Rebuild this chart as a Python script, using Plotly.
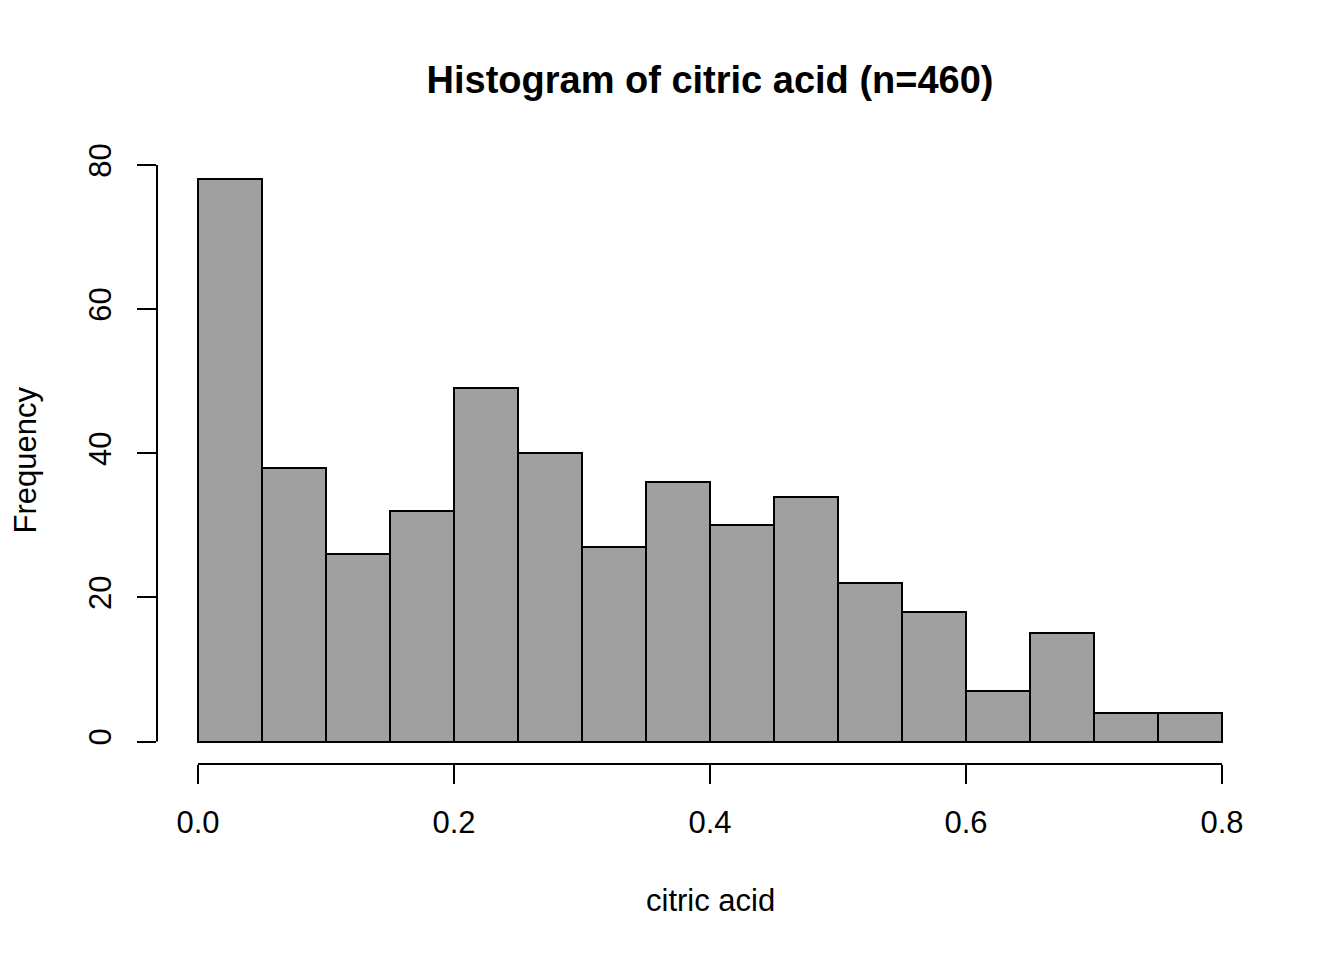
import plotly.graph_objects as go

# Data
bin_left = [0.00, 0.05, 0.10, 0.15, 0.20, 0.25, 0.30, 0.35,
            0.40, 0.45, 0.50, 0.55, 0.60, 0.65, 0.70, 0.75]
bin_width = 0.05
counts = [78, 38, 26, 32, 49, 40, 27, 36, 30, 34, 22, 18, 7, 15, 4, 4]
x_ticks = [0.0, 0.2, 0.4, 0.6, 0.8]
x_tick_labels = ["0.0", "0.2", "0.4", "0.6", "0.8"]
y_ticks = [0, 20, 40, 60, 80]
y_tick_labels = ["0", "20", "40", "60", "80"]

centers = [b + bin_width / 2 for b in bin_left]
FONT = "Liberation Sans, Arial, sans-serif"
AX = 31
W, H = 1336, 952  # page body has an 8px margin

fig = go.Figure()
fig.add_trace(go.Bar(
    x=centers, y=counts, width=[bin_width] * len(counts),
    marker=dict(color="#A0A0A0", line=dict(color="black", width=2)),
    showlegend=False, hoverinfo="x+y",
))

fig.update_layout(
    width=W, height=H,
    margin=dict(l=149, r=81, t=149, b=196, autoexpand=False),
    plot_bgcolor="white", paper_bgcolor="white",
    font=dict(family=FONT, color="black", size=AX),
    title=dict(text="<b>Histogram of citric acid (n=460)</b>",
               x=702 / W, xanchor="center",
               y=1 - 72 / H, yanchor="middle",
               font=dict(size=38, family=FONT, color="black")),
    bargap=0,
)
fig.update_xaxes(
    range=[-0.032, 0.832], tickvals=x_ticks, ticktext=x_tick_labels,
    ticks="outside", ticklen=19, tickwidth=2, tickcolor="black",
    showgrid=False, zeroline=False, showline=False, automargin=False,
    tickfont=dict(size=AX, family=FONT, color="black"),
    ticklabelstandoff=12,
)
fig.update_yaxes(
    range=[-3.12, 81.12], tickvals=y_ticks, ticktext=y_tick_labels,
    ticks="outside", ticklen=19, tickwidth=2, tickcolor="black",
    showgrid=False, zeroline=False, showline=False, tickangle=-90, automargin=False,
    tickfont=dict(size=AX, family=FONT, color="black"),
    ticklabelstandoff=14,
)
# Axis lines spanning only the tick range (R style)
fig.add_shape(type="line", xref="x", yref="paper", x0=x_ticks[0], x1=x_ticks[-1],
              y0=0, y1=0, line=dict(color="black", width=2), layer="above")
fig.add_shape(type="line", xref="paper", yref="y", x0=0, x1=0,
              y0=y_ticks[0], y1=y_ticks[-1], line=dict(color="black", width=2), layer="above")

fig.add_annotation(text="citric acid", xref="paper", yref="paper", x=0.5, y=0,
                   yshift=-(900 - 764), xanchor="center", yanchor="middle",
                   showarrow=False, font=dict(size=AX, family=FONT, color="black"))
fig.add_annotation(text="Frequency", xref="paper", yref="paper", x=0, y=0.5,
                   xshift=-(157 - 25), xanchor="center", yanchor="middle", textangle=-90,
                   showarrow=False, font=dict(size=AX, family=FONT, color="black"))

fig.write_html("out.html")
